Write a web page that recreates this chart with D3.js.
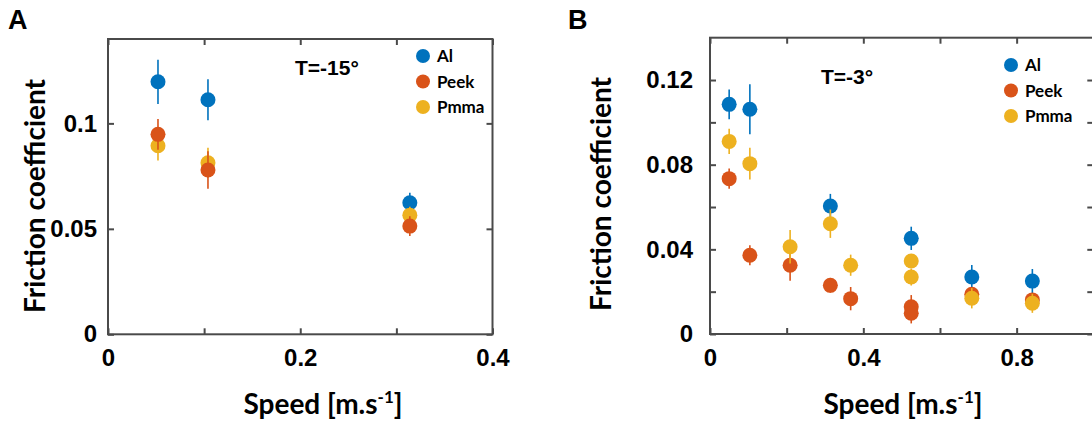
<!DOCTYPE html>
<html><head><meta charset="utf-8">
<script src="https://cdn.jsdelivr.net/npm/d3@7"></script>
<style>body{margin:0;background:#fff}svg{display:block;background:#fff}</style>
</head><body><svg id="c" width="1092" height="427"></svg>
<script>
// ---------- data ----------
const materials = ["Al", "Peek", "Pmma"];
const colors = ["#0072BD", "#D95319", "#EDB120"];

// Panel A, T = -15°
const speedA = [0.052, 0.104, 0.314];
const alA = [0.1197, 0.1112, 0.0624];
const alErrA = [0.0105, 0.0097, 0.0047];
const peekA = [0.0948, 0.0779, 0.0513];
const peekErrA = [0.0073, 0.0089, 0.0047];
const pmmaA = [0.0894, 0.0813, 0.0565];
const pmmaErrA = [0.0070, 0.0071, 0.0040];

// Panel B, T = -3°
const speedAlB = [0.05, 0.104, 0.314, 0.525, 0.683, 0.841];
const alB = [0.1085, 0.1062, 0.0605, 0.0452, 0.0269, 0.0250];
const alErrB = [0.0070, 0.0118, 0.0057, 0.0055, 0.0057, 0.0057];
const speedPolyB = [0.05, 0.104, 0.209, 0.314, 0.367, 0.525, 0.525, 0.683, 0.841];
const peekB = [0.0734, 0.0372, 0.0325, 0.0230, 0.0167, 0.0129, 0.0098, 0.0188, 0.0161];
const peekErrB = [0.0048, 0.0047, 0.0073, 0.0035, 0.0055, 0.0055, 0.0048, 0.0030, 0.0030];
const pmmaB = [0.0910, 0.0805, 0.0412, 0.0521, 0.0325, 0.0345, 0.0269, 0.0169, 0.0145];
const pmmaErrB = [0.0060, 0.0075, 0.0079, 0.0067, 0.0050, 0.0030, 0.0040, 0.0048, 0.0045];

// ticks
const xTicksA = [0, 0.1, 0.2, 0.3, 0.4];
const xLabelsA = ["0", "", "0.2", "", "0.4"];
const yTicksA = [0, 0.05, 0.1];
const yLabelsA = ["0", "0.05", "0.1"];
const xTicksB = [0, 0.2, 0.4, 0.6, 0.8, 1.0];
const xLabelsB = ["0", "", "0.4", "", "0.8", ""];
const yTicksB = [0, 0.02, 0.04, 0.06, 0.08, 0.10, 0.12];
const yLabelsB = ["0", "", "0.04", "", "0.08", "", "0.12"];

const svg = d3.select("#c");
svg.append("rect").attr("width", 1092).attr("height", 427).attr("fill", "#fff");

const AXC = "#4a4a4a";
const tickFont = "'Liberation Sans', Arial, sans-serif";
const labelFont = "Lato, 'Open Sans', sans-serif";

function panel(cfg) {
  const x = d3.scaleLinear().domain(cfg.xDomain).range(cfg.xRange);
  const y = d3.scaleLinear().domain(cfg.yDomain).range(cfg.yRange);
  const g = svg.append("g");
  const [x0, x1] = cfg.xRange, [y0, y1] = cfg.yRange;

  const fmt = (ticks, labels) => d => labels[ticks.indexOf(d)] ?? "";
  const axes = [
    [d3.axisBottom(x).tickValues(cfg.xTicks).tickFormat(fmt(cfg.xTicks, cfg.xLabels)).tickPadding(cfg.xPad), `translate(0,${y0})`],
    [d3.axisTop(x).tickValues(cfg.xTicks).tickFormat(""), `translate(0,${y1})`],
    [d3.axisLeft(y).tickValues(cfg.yTicks).tickFormat(fmt(cfg.yTicks, cfg.yLabels)).tickPadding(cfg.yPad), `translate(${x0},0)`],
    [d3.axisRight(y).tickValues(cfg.yTicks).tickFormat(""), `translate(${x1},0)`]
  ];
  axes.forEach(([ax, tr]) => {
    ax.tickSizeInner(-6).tickSizeOuter(0);
    const a = g.append("g").attr("transform", tr).call(ax);
    a.select(".domain").remove();
    a.selectAll("line").attr("stroke", AXC).attr("stroke-width", 2);
    a.selectAll("text").attr("fill", "#000").attr("font-family", tickFont)
      .attr("font-weight", "bold").attr("font-size", 24);
  });
  g.append("rect").attr("x", x0).attr("y", y1).attr("width", x1 - x0).attr("height", y0 - y1)
    .attr("fill", "none").attr("stroke", AXC).attr("stroke-width", 2);

  // series
  cfg.order.forEach(i => {
    const s = cfg.series[i];
    const data = s.x.map((xv, k) => ({ x: xv, v: s.v[k], e: s.e[k] }));
    const sg = g.append("g");
    sg.selectAll("line").data(data).join("line")
      .attr("x1", d => x(d.x)).attr("x2", d => x(d.x))
      .attr("y1", d => y(d.v - d.e)).attr("y2", d => y(d.v + d.e))
      .attr("stroke", colors[i]).attr("stroke-width", 1.6);
    sg.selectAll("circle").data(data).join("circle")
      .attr("cx", d => x(d.x)).attr("cy", d => y(d.v)).attr("r", 7.5)
      .attr("fill", colors[i]);
  });

  // legend
  materials.forEach((m, i) => {
    const ly = cfg.legY + i * cfg.legDy;
    g.append("circle").attr("cx", cfg.legX).attr("cy", ly).attr("r", 7).attr("fill", colors[i]);
    g.append("text").attr("x", cfg.legX + 14).attr("y", ly).attr("dy", "0.36em")
      .attr("font-family", labelFont).attr("font-weight", "bold").attr("font-size", 17)
      .attr("fill", "#000").text(m);
  });

  // temperature
  g.append("text").attr("x", cfg.tX).attr("y", cfg.tY).attr("font-family", tickFont)
    .attr("font-weight", "bold").attr("font-size", 21).attr("fill", "#000").text(cfg.tLabel);

  // axis titles
  g.append("text").attr("x", cfg.xtX).attr("y", 414).attr("text-anchor", "middle")
    .attr("font-family", labelFont).attr("font-weight", "bold").attr("font-size", 28)
    .attr("fill", "#000")
    .call(t => { t.append("tspan").text("Speed [m.s");
                 t.append("tspan").attr("font-size", 17).attr("dy", -11).text("-1");
                 t.append("tspan").attr("dy", 11).text("]"); });
  g.append("text").attr("transform", `translate(${cfg.ytX},${cfg.ytY}) rotate(-90)`)
    .attr("text-anchor", "middle").attr("font-family", labelFont).attr("font-weight", "bold")
    .attr("font-size", 28).attr("fill", "#000").text("Friction coefficient");

  // panel letter
  svg.append("text").attr("x", cfg.letX).attr("y", 29).attr("font-family", tickFont)
    .attr("font-weight", "bold").attr("font-size", 27).attr("fill", "#000").text(cfg.letter);
}

panel({
  letter: "A", letX: 8,
  xDomain: [0, 0.4], xRange: [108, 492.5], yDomain: [0, 0.14], yRange: [334.3, 39],
  xTicks: xTicksA, xLabels: xLabelsA, yTicks: yTicksA, yLabels: yLabelsA, xPad: 15, yPad: 11,
  series: [
    { x: speedA, v: alA, e: alErrA },
    { x: speedA, v: peekA, e: peekErrA },
    { x: speedA, v: pmmaA, e: pmmaErrA }
  ],
  order: [0, 2, 1],
  legX: 423, legY: 56, legDy: 25.5,
  tX: 295, tY: 75, tLabel: "T=-15°",
  xtX: 323, ytX: 45, ytY: 196
});

panel({
  letter: "B", letX: 568,
  xDomain: [0, 1.0], xRange: [710, 1093.3], yDomain: [0, 0.14], yRange: [334, 37.7],
  xTicks: xTicksB, xLabels: xLabelsB, yTicks: yTicksB, yLabels: yLabelsB, xPad: 15, yPad: 17,
  series: [
    { x: speedAlB, v: alB, e: alErrB },
    { x: speedPolyB, v: peekB, e: peekErrB },
    { x: speedPolyB, v: pmmaB, e: pmmaErrB }
  ],
  order: [0, 1, 2],
  legX: 1011, legY: 65, legDy: 25.5,
  tX: 821, tY: 84, tLabel: "T=-3°",
  xtX: 903, ytX: 611, ytY: 194
});
</script></body></html>
